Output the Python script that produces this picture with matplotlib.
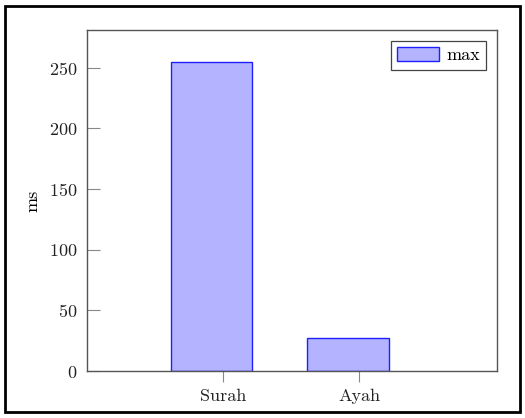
import matplotlib.pyplot as plt
from matplotlib.patches import Rectangle

# query timings (ms)
categories = ['Surah', 'Ayah']
max_ms = [255, 27]

plt.rcParams['font.family'] = ['cmr10', 'DejaVu Serif']
plt.rcParams['axes.formatter.use_mathtext'] = True
plt.rcParams['font.size'] = 13

fig = plt.figure(figsize=(5.25, 4.18), dpi=100)
ax = fig.add_axes([87 / 525, 47 / 418, 410 / 525, 341 / 418])

x = [1, 2]
ax.bar([p - 0.085 for p in x], max_ms, width=0.6, color='#b3b3ff',
       edgecolor='#2020ff', linewidth=1.0, label='max', zorder=2)

ax.set_xlim(0, 3.01)
ax.set_ylim(0, 281)
ax.set_xticks(x)
ax.set_xticklabels(categories)
ax.set_yticks([0, 50, 100, 150, 200, 250])
ax.set_ylabel('ms', labelpad=6)

for s in ax.spines.values():
    s.set_color('#555555')
    s.set_linewidth(1.0)
ax.tick_params(axis='y', direction='in', colors='#888888', labelcolor='#222222',
               length=9, width=0.8, pad=7)
ax.tick_params(axis='x', direction='out', colors='#888888', labelcolor='#222222',
               length=8, width=0.8, pad=5)

leg = ax.legend(loc='upper right', fancybox=False, edgecolor='#444444',
                handlelength=2.3, handleheight=0.8, handletextpad=0.4,
                borderpad=0.35, borderaxespad=0, framealpha=1,
                bbox_to_anchor=(0.973, 0.968))
leg.get_frame().set_linewidth(0.9)

# outer border around the whole figure
fig.patches.append(Rectangle((5 / 525, 6 / 418), 515 / 525, 406 / 418,
                             transform=fig.transFigure, fill=False,
                             edgecolor='black', linewidth=2))

fig.savefig('out.png', dpi=100)
